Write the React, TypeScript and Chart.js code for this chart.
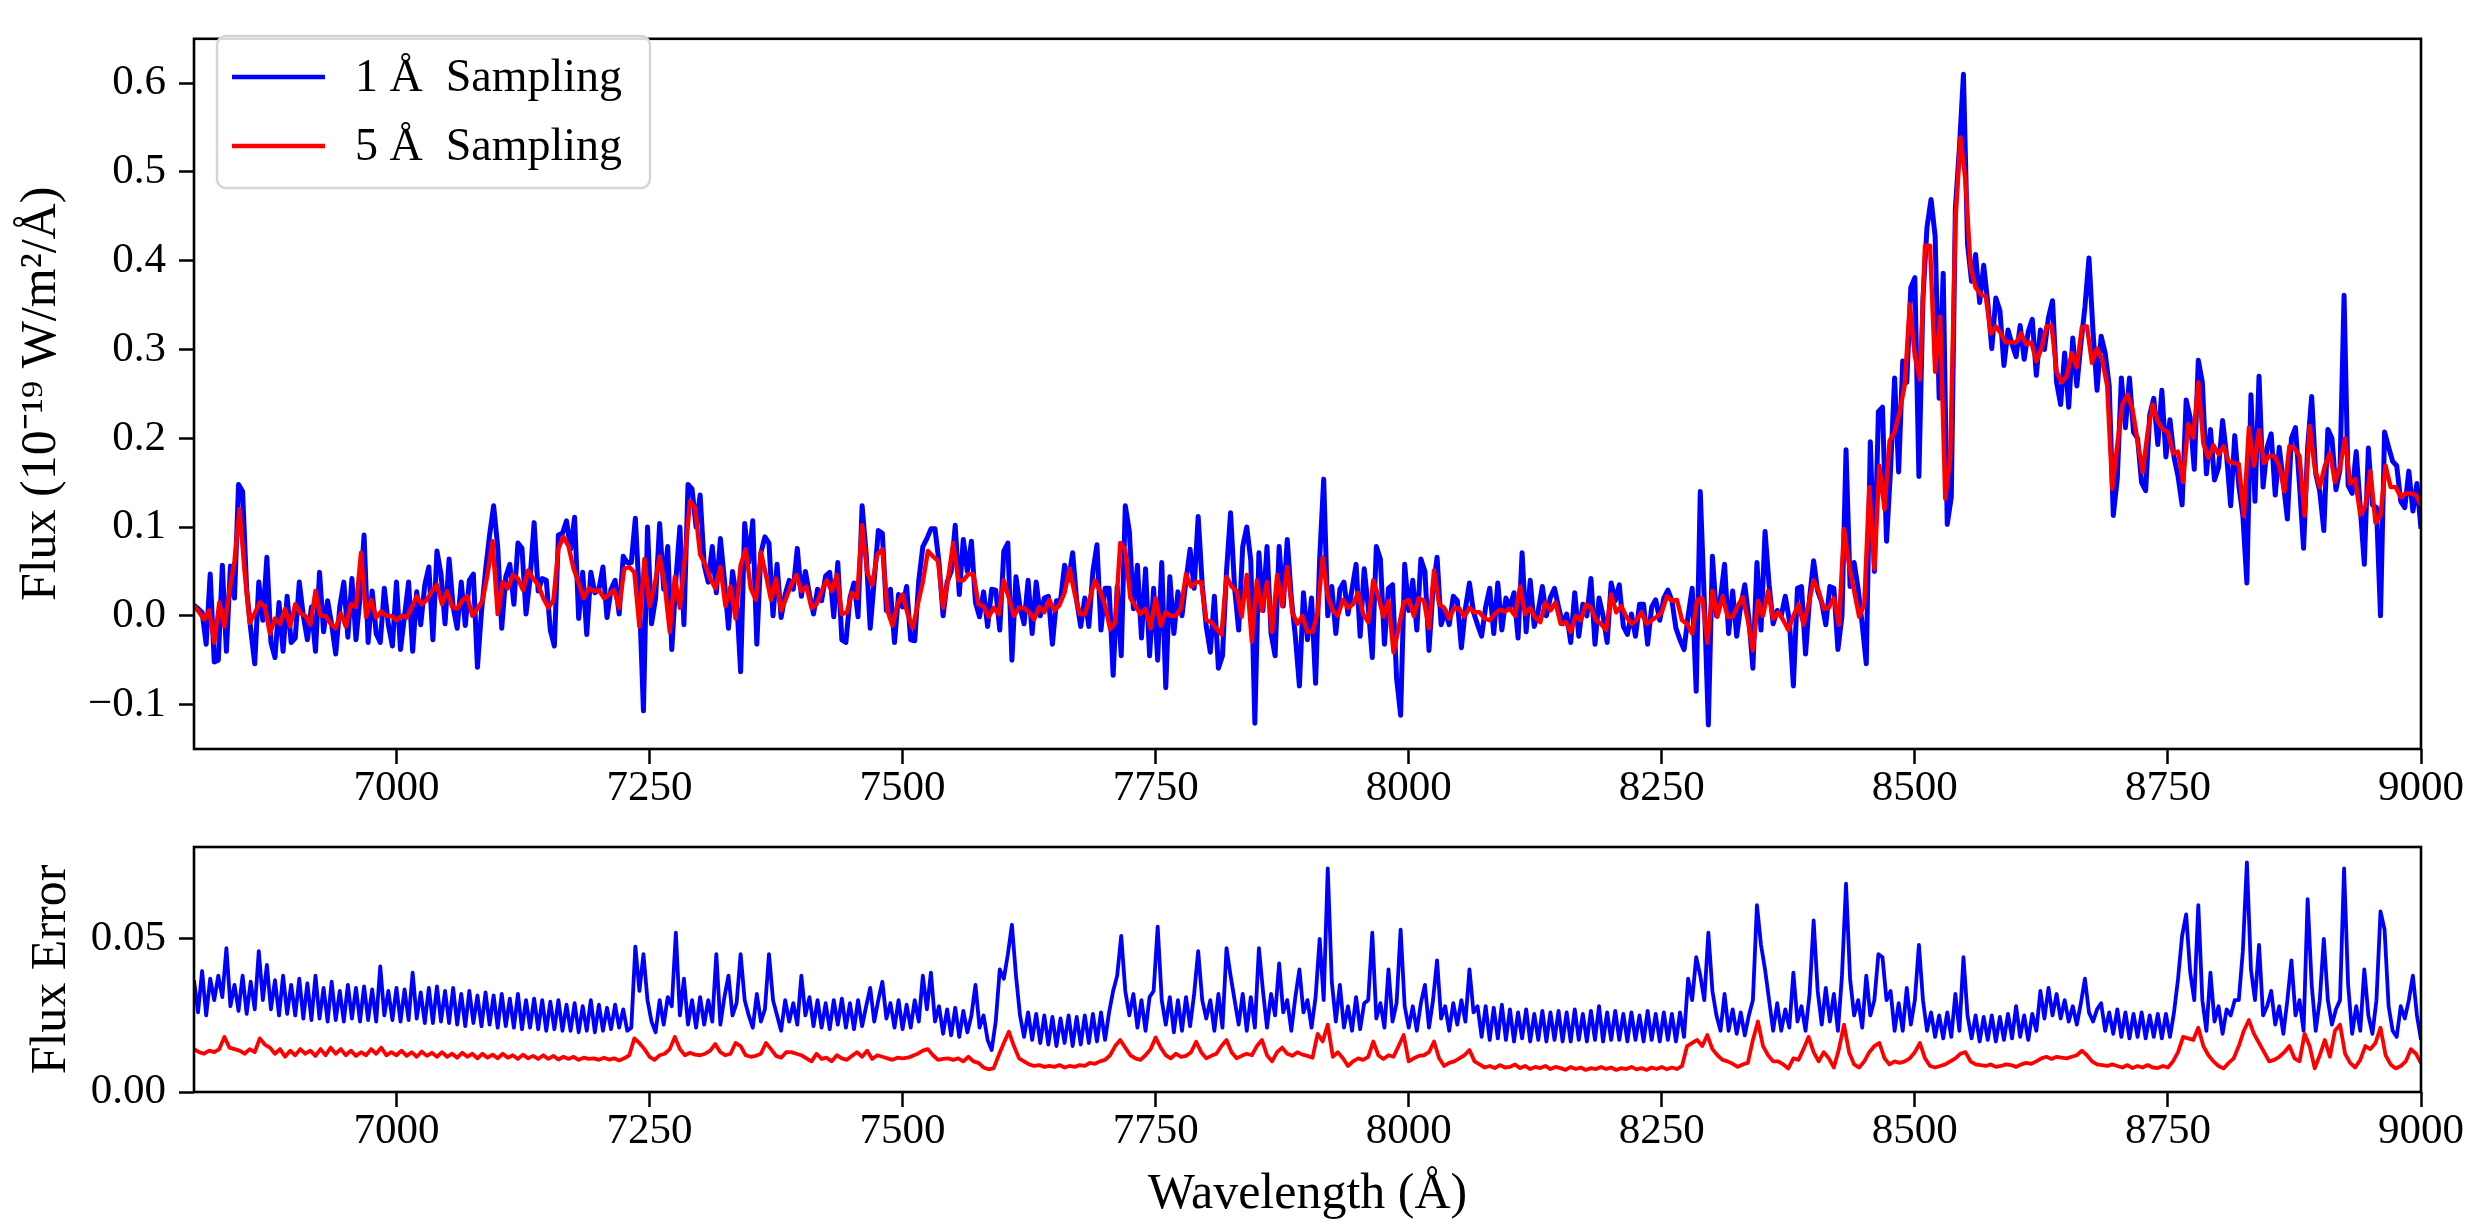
import { useEffect, useRef } from "react";
import {
  Chart,
  LineController,
  LineElement,
  PointElement,
  LinearScale,
} from "chart.js";

Chart.register(LineController, LineElement, PointElement, LinearScale);

const FONT = "'Liberation Serif', 'Times New Roman', serif";

// wavelength grid (Å)
const WAVE_MIN = 6800;
const WAVE_MAX = 9000;
const STEP_1A = 4;
const STEP_5A = 5;

const X_TICKS = [7000, 7250, 7500, 7750, 8000, 8250, 8500, 8750, 9000];
const FLUX_TICKS = [-0.1, 0, 0.1, 0.2, 0.3, 0.4, 0.5, 0.6];
const ERR_TICKS = [0, 0.05];

const LABEL_1A = "1 Å  Sampling";
const LABEL_5A = "5 Å  Sampling";

// flux, units of 1e-3 (x 1e-19 W/m^2/Å)
const flux1A = [
  12, 8, 4, -32, 47, -52, -50, 57, -40, 56,
  20, 148, 140, 30, -15, -54, 38, -5, 66, -30,
  -47, 15, -40, 22, -30, -25, 38, 0, -27, 10,
  -40, 49, -18, 17, -10, -43, 10, 38, -24, 42,
  -27, 20, 91, -30, 28, -20, -30, 31, -10, -34,
  38, -38, 0, 38, -40, 27, -10, 35, 55, -27,
  73, 47, -9, 64, 10, -14, 38, -11, 40, 47,
  -58, 5, 51, 91, 124, 78, -14, 44, 58, 13,
  82, 76, 2, 42, 105, 28, 42, 40, -16, -34,
  91, 93, 107, 75, 111, -3, 49, -21, 49, 26,
  30, 55, -2, 30, 40, 2, 67, 60,
  60, 110, 20, -107, 100, -9, 20, 104, 30, 78,
  -38, 40, 100, -10, 148, 143, 100, 136, 57, 38,
  78, 26, 87, 40, -14, 50, 20, -63, 104, 60,
  107, -32, 71, 89, 82, 0, 58, -2, 24, 40,
  30, 76, 22, 50, 24, 2, 30, 17, 45, 49,
  -1, 60, -27, -30, 20, 37, -1, 124, 70, -14,
  40, 96, 93, 6, 30, -30, 24, 10, 33, -27,
  -28, 40, 78, 87, 98, 98, 60, 0, 38, 50,
  102, 24, 86, 50, 84, 15, -1, 27, -12, 30,
  29, -16, 73, 82, -50, 44, 10, -9, 40, -20,
  38, 0, 20, 22, -32,
  17, 17, 57, 40, 71, 17, -12, 20, -12, 50,
  80, -16, 31, 31, -67, 33, -45, 124, 95, 8,
  57, -25, 53, -45, 31, -50, 60, -81, 44, -20,
  27, 0, 40, 75, 31, 112, 35, -12, -41, 22,
  -59, -45, 50, 116, 31, -16, 78, 100, 62, -121,
  71, 6, 78, -20, -45, 78, 11, 86, 20, -23,
  -79, 26, -27, 20, -76, 64, 154, 0, 33, -20,
  30, 38, 2, 30, 58, -23, 53, 10, -47, 78,
  64, -32, 31, 35, -70, -112, 58, 6, 40, -16,
  64, 50, -39, 30, 66, -10, 6, -10, 22, 17,
  -36, 8, 37, 4,
  -10, -23, 10, 31, -20, 37, -16, 20, 10, 26,
  -25, 71, -18, 40, -12, 6, 33, 0, 21, 31,
  10, -9, 2, -30, 26, -23, 13, 0, 42, -32,
  20, 0, -30, 37, 17, 35, -12, -21, 2, -23,
  13, 13, -32, 10, 18, -5, 20, 29, 17, -14,
  -27, -38, 0, 31, -85, 140, 17, -123, 67, 0,
  20, 58, -20, 28, -23, 12, 35, -3, -59, 60,
  -16, 95, 35, -9, 6, 0, 22, -5, -79, 31,
  33, -43, 20, 62, 28, 15, -10, 33, 31, -38,
  0, 187, 33, 60, 30, -10, -54, 196, 50,
  230, 235, 84, 165, 268, 162, 287, 263, 370, 381,
  157, 358, 438, 469, 428, 245, 386, 103, 134, 459,
  527, 610, 419, 377, 407, 353, 395, 353, 301, 358,
  344, 282, 322, 306, 292, 327, 289, 320, 334, 271,
  322, 300, 336, 355, 263, 238, 296, 235, 313, 259,
  306, 348, 403, 320, 254, 315, 296, 259, 113, 155,
  268, 212, 268, 207, 200, 150, 141, 226, 245, 193,
  254, 179, 221, 179, 157,
  125, 243, 223, 165, 288, 263, 160, 210, 153, 167,
  220, 180, 124, 203, 147, 113, 37, 249, 129, 270,
  145, 190, 205, 136, 190, 150, 109, 200, 212, 147,
  76, 190, 247, 160, 140, 96, 210, 200, 142, 165,
  361, 147, 138, 185, 122, 58, 189, 125, 122, 0,
  207, 190, 174, 169, 129, 122, 163, 118, 149, 98,
];

const flux5A = [
  12, 4, -4, 6, -30, 15, -12, 28, 62, 120,
  50, -8, 3, 15, 10, -20, -3, -9, 8, -12,
  13, 3, 0, -10, 28, 0, 0, -9, -14, 3,
  -12, 13, 10, 71, -1, 18, -2, 5, 0, 0,
  -5, 0, -2, 9, 22, 13, 18, 28, 35, 13,
  28, 10, 8, 17, 22, 0, 8, 17, 47, 84,
  2, 38, 31, 46, 42, 29, 51, 42, 35, 20,
  9, 17, 76, 89, 78, 53, 37, 20, 31, 28,
  29, 20, 24, 29, 9, 53,
  55, 49, -12, 64, 11, 35, 67, 35, -18, 44,
  9, 67, 129, 122, 69, 58, 42, 31, 55, 11,
  33, -3, 57, 75, 31, 18, 72, 46, 18, 42,
  6, 20, 35, 46, 28, 33, 9, 13, 28, 40,
  28, 46, 2, 4, 26, 20, 102, 49, 35, 69,
  75, 6, -11, 13, 24, 2, -14, 13, 38, 73,
  67, 62, 9, 42, 82, 40, 40, 47, 47, 13,
  11, -1, 9, 2, 40, 20, 0, 9, 9, 4,
  -4, 10, 4, 18,
  6, 12, 26, 53, 25, 2, 2, 20, 40, 28,
  12, -15, -8, 82, 74, 20, 11, 2, 8, -14,
  20, -11, 4, 0, 0, 9, 47, 33, 38, 38,
  -5, -7, -14, -21, 44, 33, 28, -1, 46, -29,
  40, 6, 38, -18, 46, 11, 55, 4, -9, 0,
  -18, -18, 4, 66, 22, 6, 0, 18, 9, 13,
  26, 2, -7, 40, 22, -1, 17, -41, -14, 15,
  18, 0, 20, 17, -14, 51, 13, 9, -3, 9,
  8, -1, 9, 4,
  4, -3, -5, 2, 7, 5, 8, 0, 33, 2,
  9, -2, -7, 15, 6, 15, -9, -7, -18, 0,
  -5, 13, 9, -5, -9, -16, 24, 4, 11, -1,
  -9, -5, 4, -9, -5, -1, 4, 22, 17, 18,
  -5, -9, -20, 18, 20, -30, 28, -1, 22, -1,
  -1, 11, 21, -5, -39, 17, 0, 28, -3, 4,
  -5, -16, 0, 13, -10, 13, 40, 28, 8, 9,
  20, -10, 98, 57, 28, -1, 13,
  145, 53, 169, 120, 197, 207, 230, 260, 351, 292,
  266, 417, 417, 275, 337, 132, 179, 443, 539, 490,
  393, 370, 362, 360, 318, 326, 318, 308, 308, 308,
  318, 306, 308, 287, 301, 326, 327, 275, 263, 270,
  296, 280, 325, 326, 285, 301, 289, 259, 143, 193,
  238, 249, 233, 197, 162, 207, 238, 219, 210, 207,
  183, 185, 151, 216, 201, 263, 194, 178, 192, 182,
  191, 174, 172, 171, 113, 212, 169, 209, 172, 180,
  180, 169, 140, 191, 189, 180, 113, 214, 167, 145,
  169, 183, 151, 167, 200, 149, 154, 114, 124, 163,
  105, 113, 169, 145, 145, 134, 138, 138, 136, 125,
];

// flux error, units of 1e-4
const err1A = [
  365, 260, 395, 250, 370, 300, 380, 310, 470, 280,
  350, 265, 380, 255, 360, 270, 460, 300, 415, 270,
  365, 250, 380, 255, 350, 250,
  370, 240, 355, 235, 380, 240, 340, 230, 360, 235,
  330, 230, 350, 240, 340, 230, 345, 235, 335, 230,
  410, 250, 330, 235, 340,
  230, 335, 235, 390, 240, 325, 225, 340, 225, 345,
  230, 330, 225, 340, 220, 320, 215, 330, 225, 315,
  215, 325, 220, 315, 210, 320, 215, 305, 210, 320,
  205, 300, 210, 305, 205, 300, 200, 295, 205, 300,
  200, 285, 200, 290, 195, 280, 200, 300, 195, 285,
  200, 275, 205, 285, 210, 270, 200,
  210, 475, 330, 450, 300, 230, 195, 300, 220, 310,
  280, 520, 250, 370, 220, 300, 210, 310, 220, 300,
  230, 450, 220, 310, 380, 250, 290, 450, 300, 250,
  210, 320, 230, 270, 450, 300, 250, 200, 300, 230,
  290, 220, 380, 250, 310, 215, 300, 210, 290, 205,
  300, 220, 305, 210, 290, 205, 300, 215, 280, 340,
  230, 300, 360, 240, 290, 210, 300, 205, 285, 210,
  300, 230, 380, 270, 390, 230, 280, 190, 270, 185,
  275, 180, 265, 195, 250, 350, 210, 250, 170, 137,
  230, 400, 370,
  450, 546, 380, 250, 180, 260, 170, 255, 160, 250,
  155, 245, 150, 240, 160, 250, 150, 245, 155, 250,
  160, 255, 165, 260, 170,
  260, 330, 380, 510, 330, 250, 320, 210, 300, 200,
  310, 330, 540, 300, 220, 310, 195, 300, 200, 310,
  215, 320, 460, 300, 240, 300, 200, 320, 210, 470,
  380, 300, 220, 320, 200, 310, 210, 470, 330, 210,
  320, 250, 420, 260, 300, 200, 310, 400, 260, 300,
  210, 310, 500, 300, 730, 360, 230, 350, 210, 280,
  200, 310, 205, 290, 300, 520, 240, 290, 210, 400,
  230, 290, 530, 280, 210, 280, 200, 290, 350, 210,
  300, 430, 240, 280, 200, 290, 220, 300, 230, 400,
  260, 280,
  180, 280, 170, 275, 175, 285, 170, 270, 165, 260,
  175, 270, 165, 255, 170, 265, 165, 260, 170, 265,
  165, 260, 165, 270, 170, 255, 165, 265, 170, 280,
  165, 260, 170, 265, 170, 255, 165, 260, 170, 250,
  165, 265, 170, 255, 165, 260, 170, 255, 165, 260,
  180,
  370, 300, 440, 380, 300, 520, 330, 250, 200, 320,
  200, 270, 190, 260, 185, 250, 300, 610, 480, 400,
  300, 200, 290, 200, 270, 210, 390, 230, 280, 200,
  320, 560, 330, 220, 340, 230, 320, 200, 380, 680,
  370, 250, 300, 210, 380, 250, 300, 450, 440, 300,
  330, 200, 290, 200, 340, 220, 300, 480, 300, 200,
  260, 180,
  250, 175, 260, 180, 320, 200, 440, 250, 175, 250,
  165, 245, 170, 250, 165, 245, 170, 255, 175, 280,
  180, 250, 170, 255, 200, 330, 240, 340, 250, 320,
  240, 300, 230, 280, 220, 290, 370, 260, 230, 270,
  290, 200, 260, 190, 270, 180, 260, 175, 255, 180,
  260, 175, 250, 180, 255, 175, 255, 180, 260, 370,
  510, 580, 390, 300, 610, 300, 200, 390, 230, 280,
  190, 270, 250, 300, 300, 460, 750, 400, 300, 480,
  250, 280, 330, 220, 280, 190, 300, 430, 250, 300,
  200, 630, 350, 200, 300, 500, 300, 220, 270, 300,
  730, 350, 190, 280, 200, 400, 250, 190, 300, 590,
  530, 280, 200, 180, 280, 240, 300, 380, 250, 170,
];

const err5A = [
  140, 130, 125, 135, 130, 140, 180, 145, 140, 135,
  125, 140, 130, 175, 155, 145, 125, 140, 115, 135,
  120, 140, 125, 135, 118, 140, 120, 145, 125, 140,
  120, 135, 118, 130, 120, 140, 125, 145, 120, 130,
  120, 135, 118, 130, 115, 132, 118, 128, 115, 130,
  115, 125, 112, 128, 115, 125, 110, 125, 112, 122,
  110, 125, 112, 120, 108, 122, 110, 118, 108, 120,
  108, 118, 106, 115, 108, 115, 105, 112, 108, 110,
  105, 112, 106, 110, 103, 110,
  120, 175, 160, 140, 115, 105, 120, 125, 140, 180,
  140, 120, 128, 122, 120, 125, 135, 157, 130, 120,
  125, 160, 150, 120, 115, 118, 125, 160, 140, 118,
  112, 130, 130, 125, 120, 110, 100, 125, 108, 112,
  100, 120, 110, 105,
  118, 130, 115, 135, 108, 120, 115, 110, 105, 112,
  110, 112, 118, 125, 135, 140, 120, 105, 108, 110,
  105, 110, 100, 115, 100, 95, 80, 74, 78, 120,
  160, 197, 150, 110, 100, 90, 85, 88, 82, 85,
  82, 88, 80, 85, 82, 88, 85, 95, 92, 100,
  105, 120, 150, 170, 145, 120, 110, 105, 120, 140,
  178, 145, 120, 110, 125, 115, 118, 130, 164, 130,
  110, 118, 125, 150, 170, 130, 110, 118, 125, 120,
  150, 170, 120, 100, 130, 145, 125, 118, 130, 122,
  118, 112, 190, 165, 220, 115, 130, 110, 85, 100,
  110, 105, 115, 165, 120, 108, 120, 115, 150, 186,
  100, 110, 118, 120, 130, 165, 110, 85, 95, 100,
  110, 120, 137, 100,
  90, 80, 85, 78, 88, 80, 82, 90, 78, 85,
  75, 82, 78, 85, 75, 82, 78, 72, 82, 75,
  80, 72, 78, 75, 82, 75, 80, 72, 78, 75,
  82, 74, 78, 72, 80, 75, 82, 74, 80, 75,
  85,
  150, 160, 170, 150, 186, 140, 120, 105, 100, 92,
  82, 90, 95, 170, 230, 150, 120, 100, 100, 90,
  77, 110, 105, 140, 180, 130, 100, 130, 110, 80,
  140, 220, 130, 90, 80, 100, 130, 150, 160, 110,
  90, 100, 95, 100, 110, 130, 160, 110, 85, 80,
  85, 90, 100, 110, 125, 130, 100, 90, 88, 85,
  90, 82, 85, 90, 88, 82, 90, 95, 92, 100,
  110, 115, 108, 115, 112, 110, 115, 120, 135, 120,
  100, 90, 88, 85, 90, 85, 80, 88, 78, 85,
  80, 88, 80, 78, 85, 80, 100, 130,
  180, 175, 170, 210, 150, 120, 100, 85, 77, 95,
  110, 150, 200, 235, 190, 160, 130, 100, 105, 115,
  130, 150, 110, 100, 190, 150, 77, 120, 170, 115,
  200, 220, 125, 95, 80, 105, 150, 140, 160, 210,
  120, 90, 77, 85, 100, 140, 125, 94,
];

const toPoints = (vals: number[], step: number, scale: number) =>
  vals.map((v, i) => ({ x: WAVE_MIN + i * step, y: v * scale }));

const framePlugin = {
  id: "frame",
  afterDraw(chart: Chart) {
    const { ctx, chartArea: a } = chart;
    ctx.save();
    ctx.strokeStyle = "#000";
    ctx.lineWidth = 2.6;
    ctx.strokeRect(a.left, a.top, a.right - a.left, a.bottom - a.top);
    ctx.restore();
  },
};

// matplotlib style legend box, upper left
const legendPlugin = {
  id: "boxLegend",
  afterDraw(chart: Chart) {
    const { ctx } = chart;
    ctx.save();
    ctx.beginPath();
    ctx.roundRect(217, 36, 433, 152, 9);
    ctx.fillStyle = "rgba(255,255,255,0.85)";
    ctx.fill();
    ctx.strokeStyle = "#d5d5d5";
    ctx.lineWidth = 2.5;
    ctx.stroke();
    const items = [
      { label: LABEL_1A, color: "#0000ff" },
      { label: LABEL_5A, color: "#ff0000" },
    ];
    items.forEach((it, i) => {
      const y = 77 + i * 69;
      ctx.strokeStyle = it.color;
      ctx.lineWidth = 4.4;
      ctx.beginPath();
      ctx.moveTo(232, y);
      ctx.lineTo(325, y);
      ctx.stroke();
      ctx.fillStyle = "#000";
      ctx.font = `46px ${FONT}`;
      ctx.textBaseline = "middle";
      ctx.fillText(it.label, 355, y + 2);
    });
    ctx.restore();
  },
};

const tickFont = { family: FONT, size: 43 };
const titleFont = { family: FONT, size: 50 };

const xScale = (height: number, title?: string) => ({
  type: "linear" as const,
  min: WAVE_MIN,
  max: WAVE_MAX,
  afterBuildTicks: (axis: any) => {
    axis.ticks = X_TICKS.map((v) => ({ value: v }));
  },
  afterFit: (axis: any) => {
    axis.height = height;
  },
  grid: {
    drawOnChartArea: false,
    drawTicks: true,
    tickLength: 15,
    tickWidth: 2.5,
    tickColor: "#000",
  },
  border: { display: false },
  ticks: {
    font: { ...tickFont, lineHeight: 1 },
    color: "#000",
    padding: 3,
    maxRotation: 0,
    autoSkip: false,
    callback: (v: any) => String(v),
  },
  title: {
    display: !!title,
    text: title || "",
    font: titleFont,
    color: "#000",
    padding: { top: 0, bottom: 5 },
  },
});

const yScale = (
  min: number,
  max: number,
  ticks: number[],
  digits: number,
  title: string,
  titlePad: number
) => ({
  type: "linear" as const,
  min,
  max,
  afterBuildTicks: (axis: any) => {
    axis.ticks = ticks.map((v) => ({ value: v }));
  },
  afterFit: (axis: any) => {
    axis.width = 194;
  },
  grid: {
    drawOnChartArea: false,
    drawTicks: true,
    tickLength: 15,
    tickWidth: 2.5,
    tickColor: "#000",
  },
  border: { display: false },
  ticks: {
    font: tickFont,
    color: "#000",
    padding: 13,
    autoSkip: false,
    callback: (v: any) =>
      (v < 0 ? "\u2212" : "") + Math.abs(Number(v)).toFixed(digits),
  },
  title: {
    display: true,
    text: title,
    font: titleFont,
    color: "#000",
    padding: { top: titlePad, bottom: 0 },
  },
});

const lineSet = (label: string, data: any[], color: string, width: number, order: number) => ({
  label,
  data,
  borderColor: color,
  backgroundColor: color,
  borderWidth: width,
  borderJoinStyle: "round" as const,
  pointRadius: 0,
  tension: 0,
  fill: false,
  order,
});

export default function App() {
  const topRef = useRef<HTMLCanvasElement>(null);
  const bottomRef = useRef<HTMLCanvasElement>(null);

  useEffect(() => {
    if (!topRef.current || !bottomRef.current) return;

    const top = new Chart(topRef.current, {
      type: "line",
      data: {
        datasets: [
          lineSet(LABEL_1A, toPoints(flux1A, STEP_1A, 1e-3), "#0000ff", 5, 2),
          lineSet(LABEL_5A, toPoints(flux5A, STEP_5A, 1e-3), "#ff0000", 4.4, 1),
        ],
      },
      options: {
        animation: false,
        responsive: false,
        devicePixelRatio: 1,
        parsing: false,
        events: [],
        layout: { padding: { top: 14, right: 51, left: 0, bottom: 0 } },
        scales: {
          x: xScale(51),
          y: yScale(-0.15, 0.65, FLUX_TICKS, 1, "Flux (10⁻¹⁹ W/m²/Å)", 12),
        },
      },
      plugins: [framePlugin, legendPlugin],
    } as any);

    const bottom = new Chart(bottomRef.current, {
      type: "line",
      data: {
        datasets: [
          lineSet(LABEL_1A, toPoints(err1A, STEP_1A, 1e-4), "#0000ff", 3.8, 2),
          lineSet(LABEL_5A, toPoints(err5A, STEP_5A, 1e-4), "#ff0000", 3.8, 1),
        ],
      },
      options: {
        animation: false,
        responsive: false,
        devicePixelRatio: 1,
        parsing: false,
        events: [],
        layout: { padding: { top: 47, right: 51, left: 0, bottom: 0 } },
        scales: {
          x: xScale(138, "Wavelength (Å)"),
          y: yScale(0, 0.08, ERR_TICKS, 2, "Flux Error", 22),
        },
      },
      plugins: [framePlugin],
    } as any);

    return () => {
      top.destroy();
      bottom.destroy();
    };
  }, []);

  return (
    <div
      style={{
        position: "fixed",
        left: 0,
        top: 0,
        width: 2472,
        height: 1230,
        background: "#fff",
      }}
    >
      <canvas
        ref={topRef}
        width={2472}
        height={800}
        style={{ position: "absolute", left: 0, top: 0 }}
      />
      <canvas
        ref={bottomRef}
        width={2472}
        height={430}
        style={{ position: "absolute", left: 0, top: 800 }}
      />
    </div>
  );
}
